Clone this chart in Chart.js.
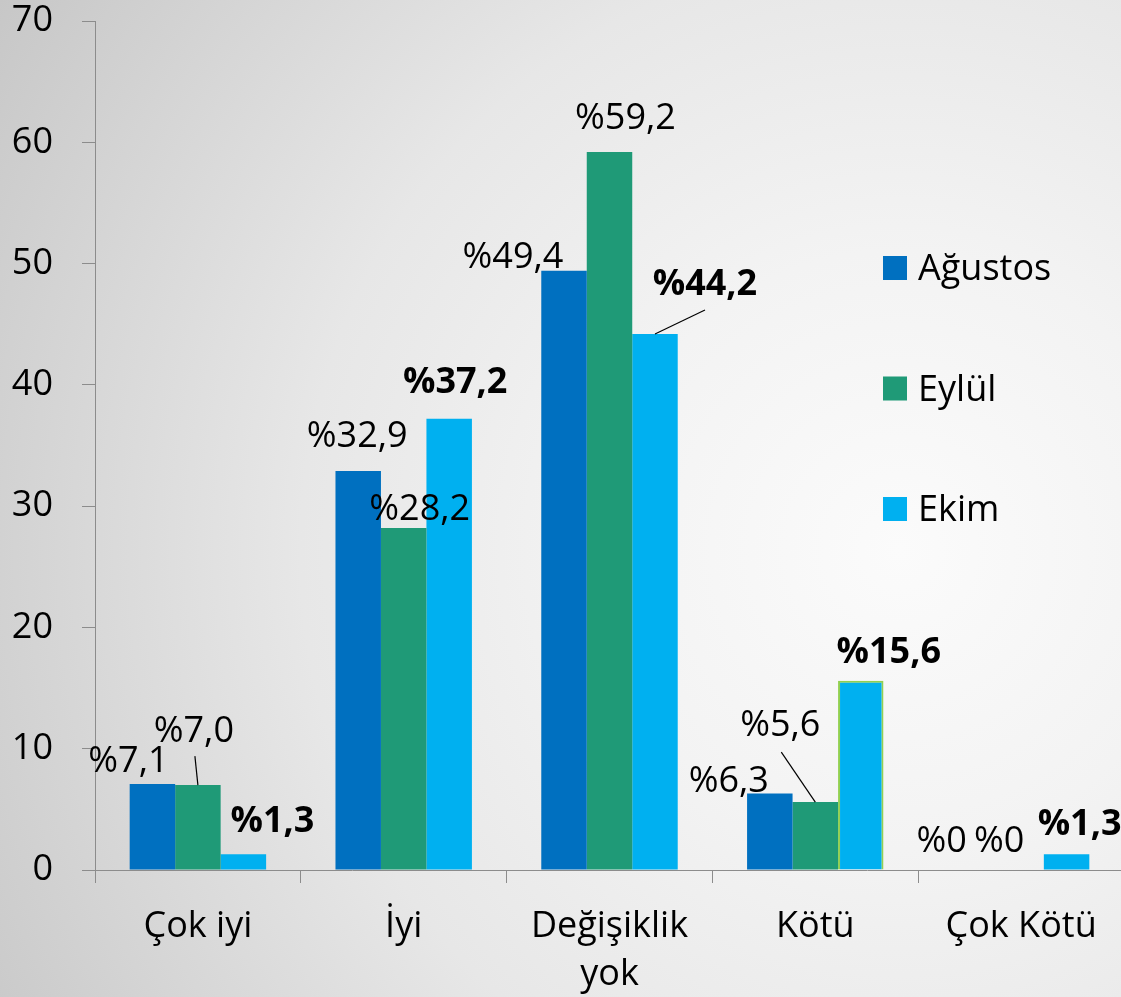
<!DOCTYPE html>
<html>
<head>
<meta charset="utf-8">
<script src="https://cdn.jsdelivr.net/npm/chart.js@4/dist/chart.umd.min.js"></script>
<style>
html, body { margin: 0; padding: 0; overflow: hidden; }
body {
  width: 1121px; height: 997px;
  background: radial-gradient(circle 1070px at 900px 550px, #fbfbfb 0%, #f3f3f3 28%, #e7e7e7 56%, #c6c6c6 100%);
}
#wrap { width: 1124px; height: 997px; }
</style>
</head>
<body>
<div id="wrap"><canvas id="myChart" width="1124" height="997"></canvas></div>
<script>
// chart data
var categories = ['Çok iyi', 'İyi', ['Değişiklik', 'yok'], 'Kötü', 'Çok Kötü'];
var seriesNames = ['Ağustos', 'Eylül', 'Ekim'];
var agustos = [7.1, 32.9, 49.4, 6.3, 0];
var eylul = [7.0, 28.2, 59.2, 5.6, 0];
var ekim = [1.3, 37.2, 44.2, 15.6, 1.3];
var yMin = 0, yMax = 70, yStep = 10;

// where each value label sits, relative to the top centre of its bar (text baseline)
var labelOffsets = [
  [[-24, -12], [-1, -24], [-51, -3], [-41, -2], [-34, -18]],
  [[-4, -43], [16, -8], [16, -23], [-35, -66], [-22, -18]],
  [[29, -22], [6, -26], [50, -39], [28, -18], [13, -19]]
];
// leader lines: dataset, index, start point relative to the label
var leaders = [
  [1, 0, 1, 14],
  [1, 3, 1, 16],
  [2, 2, 0, 15]
];

Chart.defaults.font.family = '"Open Sans", sans-serif';
Chart.defaults.color = '#000';

function fmt(v) {
  if (v === 0) return '%0';
  return '%' + v.toFixed(1).replace('.', ',');
}

var valueLabels = {
  id: 'valueLabels',
  afterDatasetsDraw: function(chart) {
    var ctx = chart.ctx;
    ctx.save();
    ctx.fillStyle = '#000';
    ctx.strokeStyle = '#000';
    ctx.lineWidth = 1.2;
    ctx.textAlign = 'center';
    ctx.textBaseline = 'alphabetic';
    chart.data.datasets.forEach(function(ds, d) {
      var meta = chart.getDatasetMeta(d);
      ctx.font = (ds.boldLabels ? 'bold ' : '') + '36px "Open Sans"';
      meta.data.forEach(function(bar, i) {
        var off = labelOffsets[d][i];
        var x = bar.x + off[0], y = bar.y + off[1];
        ctx.fillText(fmt(ds.data[i]), x, y);
        leaders.forEach(function(l) {
          if (l[0] === d && l[1] === i) {
            ctx.beginPath();
            ctx.moveTo(x + l[2], y + l[3]);
            ctx.lineTo(bar.x, bar.y);
            ctx.stroke();
          }
        });
      });
    });
    ctx.restore();
  }
};

// legend drawn on the right inside the plot
var sideLegend = {
  id: 'sideLegend',
  afterDraw: function(chart) {
    var ctx = chart.ctx;
    ctx.save();
    ctx.font = '36px "Open Sans"';
    ctx.textAlign = 'left';
    ctx.textBaseline = 'alphabetic';
    chart.data.datasets.forEach(function(ds, d) {
      var top = 256 + d * 120.5;
      ctx.fillStyle = ds.backgroundColor;
      ctx.fillRect(883, top, 24, 24);
      ctx.fillStyle = '#000';
      ctx.fillText(ds.label, 918, top + 24);
    });
    ctx.restore();
  }
};

var ctx = document.getElementById('myChart').getContext('2d');
var chart = new Chart(ctx, {
  type: 'bar',
  data: {
    labels: categories,
    datasets: [{
      label: seriesNames[0],
      data: agustos,
      backgroundColor: '#0070C0',
      borderWidth: 0
    }, {
      label: seriesNames[1],
      data: eylul,
      backgroundColor: '#1F9A77',
      borderWidth: 0
    }, {
      label: seriesNames[2],
      data: ekim,
      backgroundColor: '#00B0F0',
      borderColor: ['#00B0F0', '#00B0F0', '#00B0F0', '#92D050', '#00B0F0'],
      borderWidth: [0, 0, 0, 2, 0],
      boldLabels: true
    }]
  },
  options: {
    responsive: false,
    animation: false,
    layout: { padding: 0 },
    datasets: {
      bar: { categoryPercentage: 0.663, barPercentage: 1 }
    },
    plugins: {
      legend: { display: false },
      tooltip: { enabled: false }
    },
    scales: {
      x: {
        afterFit: function(scale) { scale.height = 127; },
        grid: { drawOnChartArea: false, drawTicks: true, tickLength: 13, color: '#8c8c8c', offset: true },
        border: { display: true, color: '#8c8c8c', width: 1 },
        ticks: { font: { size: 36, lineHeight: 1.33 }, padding: 20, maxRotation: 0, autoSkip: false }
      },
      y: {
        min: yMin,
        max: yMax,
        afterFit: function(scale) {
          scale.width = 95;
          scale.paddingTop = 21;
          scale.paddingBottom = 21;
        },
        grid: { drawOnChartArea: false, drawTicks: true, tickLength: 13, color: '#8c8c8c' },
        border: { display: true, color: '#8c8c8c', width: 1 },
        ticks: { stepSize: yStep, font: { size: 36, lineHeight: 1.15 }, padding: 29 }
      }
    }
  },
  plugins: [valueLabels, sideLegend]
});
</script>
</body>
</html>
